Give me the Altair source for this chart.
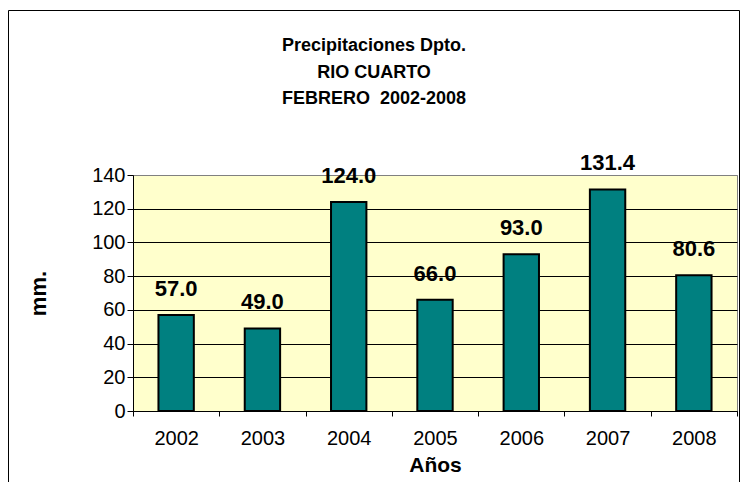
import altair as alt
import pandas as pd

years = ["2002", "2003", "2004", "2005", "2006", "2007", "2008"]
values = [57.0, 49.0, 124.0, 66.0, 93.0, 131.4, 80.6]
title_lines = ["Precipitaciones Dpto.", "RIO CUARTO", "FEBRERO\u00a0 2002-2008"]
y_ticks = [0, 20, 40, 60, 80, 100, 120, 140]

df = pd.DataFrame({"year": years, "mm": values})
df["label"] = [f"{v:.1f}" for v in values]

FONT = "Liberation Sans"

x_axis = alt.Axis(
    title="Años",
    labelAngle=0,
    tickBand="extent",
    tickSize=5,
    tickColor="black",
    domainColor="black",
    labelFont=FONT,
    labelFontSize=20,
    labelColor="black",
    labelPadding=12,
    titleFont=FONT,
    titleFontSize=21,
    titleFontWeight="bold",
    titleColor="black",
    titlePadding=6,
    grid=False,
)

y_axis = alt.Axis(
    title="mm.",
    values=y_ticks,
    tickCount=8,
    labelOverlap=False,
    tickSize=6,
    tickColor="black",
    domainColor="black",
    gridColor=alt.condition(
        alt.datum.value == 140, alt.value("#808080"), alt.value("black")
    ),
    gridWidth=1,
    gridOpacity=1,
    labelFont=FONT,
    labelFontSize=20,
    labelColor="black",
    labelPadding=2,
    titleFont=FONT,
    titleFontSize=22,
    titleFontWeight="bold",
    titleColor="black",
    titlePadding=41,
)

x_scale = alt.Scale(paddingInner=0, paddingOuter=0)
y_scale = alt.Scale(domain=[0, 140], nice=False)

bars = alt.Chart(df).mark_bar(
    width=alt.RelativeBandSize(0.41),
    color="#008080",
    stroke="black",
    strokeWidth=2,
).encode(
    x=alt.X("year:N", sort=years, scale=x_scale, axis=x_axis),
    y=alt.Y("mm:Q", scale=y_scale, axis=y_axis),
)

labels = alt.Chart(df).mark_text(
    font=FONT,
    fontSize=22,
    fontWeight="bold",
    color="black",
    baseline="alphabetic",
    dy=-19,
).encode(
    x=alt.X("year:N", sort=years, scale=x_scale, axis=x_axis),
    y=alt.Y("mm:Q", scale=y_scale, axis=y_axis),
    text="label:N",
)

frame = alt.Chart(pd.DataFrame({"f": [0]})).mark_rect(
    fill=None, stroke="black", strokeWidth=1
).encode(
    x=alt.value(-124.5),
    x2=alt.value(606.5),
    y=alt.value(-164.5),
    y2=alt.value(320),
)

title = alt.Chart(pd.DataFrame({"t": [title_lines]})).mark_text(
    font=FONT,
    fontSize=18,
    fontWeight="bold",
    color="black",
    lineHeight=26.5,
    align="center",
    baseline="middle",
).encode(
    x=alt.value(241),
    y=alt.value(-129),
    text="t",
)

chart = alt.layer(frame, bars, labels, title).properties(
    width=604,
    height=236,
    autosize=alt.AutoSizeParams(type="none"),
    padding={"left": 125, "top": 167, "right": 3, "bottom": 71},
    background="white",
).configure_view(
    fill="#FFFFCC",
    stroke="#808080",
    strokeWidth=1,
)

chart.save("out.html", embed_options={"renderer": "svg", "actions": False})
